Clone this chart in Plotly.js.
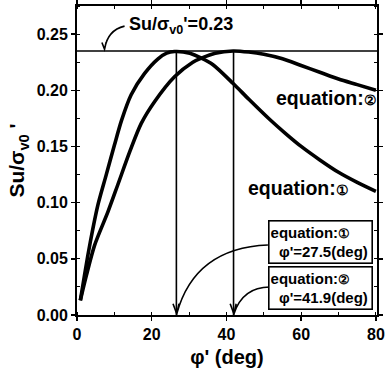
<!DOCTYPE html>
<html>
<head>
<meta charset="utf-8">
<script src="https://cdn.plot.ly/plotly-3.0.1.min.js"></script>
<style>html,body{margin:0;padding:0;background:#fff;}#chart{width:391px;height:376px;}</style>
</head>
<body>
<div id="chart"></div>
<script>
// Equation (1) curve: phi' (deg) vs Su/sigma_v0'
const phi1 = [0.9, 2.0, 2.9, 4.2, 5.6, 7.8, 10.0, 11.9, 14.5, 18.1, 21.7, 24.0, 26.1, 30.2, 33.3, 36.4, 41.8, 46.0, 51.6, 56.0, 60.0, 65.0, 70.0, 75.0, 80.0];
const su1  = [0.013, 0.035, 0.053, 0.076, 0.098, 0.1245, 0.151, 0.173, 0.196, 0.215, 0.228, 0.233, 0.2345, 0.233, 0.2286, 0.2227, 0.206, 0.192, 0.174, 0.161, 0.150, 0.138, 0.127, 0.118, 0.110];
// Equation (2) curve
const phi2 = [0.9, 2.5, 4.7, 8.3, 10.9, 14.2, 17.2, 20.8, 26.1, 31.0, 33.3, 37.0, 41.8, 46.0, 50.0, 55.0, 60.0, 65.0, 70.0, 75.0, 80.0];
const su2  = [0.013, 0.035, 0.062, 0.092, 0.1157, 0.146, 0.1705, 0.190, 0.212, 0.225, 0.2286, 0.233, 0.235, 0.234, 0.232, 0.228, 0.222, 0.216, 0.210, 0.205, 0.200];
// Peak value and phi' at the peaks
const suMax = 0.235;
const peakPhi = [26.6, 41.9];
const xRangeLine = [0, 80.3];
const xTicks = [0, 20, 40, 60, 80];
const yTicks = [0, 0.05, 0.10, 0.15, 0.20, 0.25];
const yTickText = ["0.00", "0.05", "0.10", "0.15", "0.20", "0.25"];

const FONT = '"Liberation Sans", Arial, sans-serif';
const black = '#000';

const traces = [
  {x: phi1, y: su1, mode: 'lines', line: {color: black, width: 3.6, shape: 'spline', smoothing: 0.8}, hoverinfo: 'skip'},
  {x: phi2, y: su2, mode: 'lines', line: {color: black, width: 3.6, shape: 'spline', smoothing: 0.8}, hoverinfo: 'skip'},
  {x: xRangeLine, y: [suMax, suMax], mode: 'lines', line: {color: black, width: 1.6}, hoverinfo: 'skip'},
  {x: [peakPhi[0], peakPhi[0]], y: [0, suMax], mode: 'lines', line: {color: black, width: 1.6}, hoverinfo: 'skip'},
  {x: [peakPhi[1], peakPhi[1]], y: [0, suMax], mode: 'lines', line: {color: black, width: 1.6}, hoverinfo: 'skip'}
];

const boxFont = {family: FONT, size: 15, color: black, weight: 'bold'};
const circ = (c, s) => '<span style="font-size:' + s + 'px">' + c + '</span>';

// leader paths (curve + open arrowhead)
function leader(x0, y0, cx, cy, x1, y1, hx, hy) {
  return 'M ' + x0 + ',' + y0 + ' Q ' + cx + ',' + cy + ' ' + x1 + ',' + y1 +
         ' M ' + (x1 - hx) + ',' + (y1 + hy) + ' L ' + x1 + ',' + y1 + ' L ' + (x1 + hx * 0.6) + ',' + (y1 + hy);
}

const layout = {
  width: 391, height: 376,
  margin: {l: 77, r: 14, t: 6, b: 61},
  paper_bgcolor: '#fff', plot_bgcolor: '#fff',
  showlegend: false,
  font: {family: FONT, color: black},
  xaxis: {
    range: [0, 80.3], tickvals: xTicks, ticktext: xTicks.map(String),
    ticks: 'outside', ticklen: 4, tickwidth: 1.5, tickcolor: black,
    minor: {dtick: 10, ticks: 'inside', ticklen: 3, tickwidth: 1, tickcolor: black},
    showline: true, linecolor: black, linewidth: 2, mirror: 'ticks',
    showgrid: false, zeroline: false,
    tickfont: {family: FONT, size: 16, color: black, weight: 'bold'},
    title: {text: "\u03c6' (deg)", font: {family: FONT, size: 20, color: black, weight: 'bold'}, standoff: 8}
  },
  yaxis: {
    range: [0, 0.275], tickvals: yTicks, ticktext: yTickText,
    ticks: 'outside', ticklen: 4, tickwidth: 1.5, tickcolor: black,
    minor: {dtick: 0.025, ticks: 'inside', ticklen: 3, tickwidth: 1, tickcolor: black},
    showline: true, linecolor: black, linewidth: 2, mirror: 'ticks',
    showgrid: false, zeroline: false,
    tickfont: {family: FONT, size: 16, color: black, weight: 'bold'},
    title: {text: "Su/\u03c3<sub>v0</sub> '", font: {family: FONT, size: 21, color: black, weight: 'bold'}, standoff: 6}
  },
  shapes: [
    {type: 'path', xref: 'x', yref: 'y', path: leader(12.73, 0.2571, 8.18, 0.2536, 7.37, 0.2365, 0.7, 0.006), line: {color: black, width: 1.6}},
    {type: 'path', xref: 'x', yref: 'y', path: leader(51.1, 0.0623, 31.5, 0.0597, peakPhi[0] + 0.1, 0.001, 1.0, 0.009), line: {color: black, width: 1.6}},
    {type: 'path', xref: 'x', yref: 'y', path: leader(51.6, 0.0249, 44.4, 0.0249, peakPhi[1] + 0.1, 0.001, 1.0, 0.009), line: {color: black, width: 1.6}}
  ],
  annotations: [
    {x: 13.3, y: 0.258, xref: 'x', yref: 'y', xanchor: 'left', yanchor: 'middle', showarrow: false,
     text: "Su/\u03c3<sub>v0</sub>'=0.23", font: {family: FONT, size: 18, color: black, weight: 'bold'}},
    {x: 52.6, y: 0.193, xref: 'x', yref: 'y', xanchor: 'left', yanchor: 'middle', showarrow: false,
     text: "equation:" + circ('\u2461', 14), font: {family: FONT, size: 19.5, color: black, weight: 'bold'}},
    {x: 45.3, y: 0.113, xref: 'x', yref: 'y', xanchor: 'left', yanchor: 'middle', showarrow: false,
     text: "equation:" + circ('\u2460', 14), font: {family: FONT, size: 19.5, color: black, weight: 'bold'}},
    {x: 65.2, y: 0.0654, xref: 'x', yref: 'y', xanchor: 'center', yanchor: 'middle', showarrow: false,
     width: 100, height: 39, align: 'left', valign: 'middle', bordercolor: black, borderwidth: 1.6, borderpad: 1, bgcolor: '#fff',
     text: "equation:" + circ('\u2460', 13) + "<br>\u00a0\u00a0\u03c6'=27.5(deg)", font: boxFont},
    {x: 65.2, y: 0.0236, xref: 'x', yref: 'y', xanchor: 'center', yanchor: 'middle', showarrow: false,
     width: 100, height: 39, align: 'left', valign: 'middle', bordercolor: black, borderwidth: 1.6, borderpad: 1, bgcolor: '#fff',
     text: "equation:" + circ('\u2461', 13) + "<br>\u00a0\u00a0\u03c6'=41.9(deg)", font: boxFont}
  ]
};

Plotly.newPlot('chart', traces, layout, {staticPlot: true, displayModeBar: false});
</script>
</body>
</html>
